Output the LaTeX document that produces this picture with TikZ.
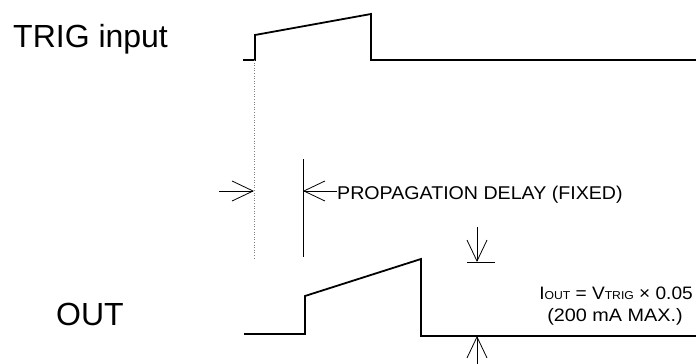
\documentclass[tikz,border=0pt]{standalone}
\usepackage{fontspec}
\setmainfont{Liberation Sans}
\usetikzlibrary{arrows.meta}
\newcommand\smallsub[1]{{\fontsize{11.5}{12}\selectfont #1}}
\begin{document}
\begin{tikzpicture}[x=1pt,y=-1pt,
  wave/.style={line width=1.8pt, line join=miter},
  thinline/.style={line width=0.8pt},
  barb/.style={-{Straight Barb[length=21pt,width=20pt,line width=0.8pt]}},
  biglabel/.style={inner sep=0pt, font=\fontsize{32}{36}\selectfont},
  smalllabel/.style={inner sep=0pt}]
\useasboundingbox (0,0) rectangle (696,364);
% labels
\node[biglabel, anchor=base west] (trig) at (13,47) {TRIG input};
\node[biglabel, anchor=base west] (out) at (56,325) {OUT};
\node[smalllabel, anchor=base west] (prop) at (337,199.5)
  {\scalebox{1.06}[1]{\fontsize{18.5}{20}\selectfont PROPAGATION DELAY (FIXED)}};
\node[smalllabel, anchor=base] (iout) at (616,299.5)
  {\scalebox{1.06}[1]{\fontsize{18}{20}\selectfont I\smallsub{OUT} = V\smallsub{TRIG} × 0.05}};
\node[smalllabel, anchor=base] (imax) at (615,321.5)
  {\scalebox{1.1}[1]{\fontsize{18}{20}\selectfont (200 mA MAX.)}};
% TRIG waveform
\coordinate (t0) at (243,60);
\coordinate (t1) at (255,60);
\coordinate (t2) at (255,35);
\coordinate (t3) at (371,14);
\coordinate (t4) at (371,60);
\coordinate (t5) at (697,60);
\draw[wave] (t0) -- (t1) -- (t2) -- (t3) -- (t4) -- (t5);
% OUT waveform
\coordinate (o0) at (244,334);
\coordinate (o1) at (305,334);
\coordinate (o2) at (305,296);
\coordinate (o3) at (421,259);
\coordinate (o4) at (421,336);
\coordinate (o5) at (697,336);
\draw[wave] (o0) -- (o1) -- (o2) -- (o3) -- (o4) -- (o5);
% markers
\coordinate (d0) at (254,60);
\coordinate (d1) at (254,260);
\draw[line width=0.6pt, gray, dotted] (d0) -- (d1);
\coordinate (s0) at (303,159);
\coordinate (s1) at (303,257);
\draw[thinline] (s0) -- (s1);
% propagation arrows
\coordinate (la) at (219,191);
\coordinate (lb) at (254,191);
\draw[thinline, barb] (la) -- (lb);
\coordinate (ra) at (337,191);
\coordinate (rb) at (303,191);
\draw[thinline, barb] (ra) -- (rb);
% amplitude arrows
\coordinate (da) at (477,227);
\coordinate (db) at (477,262);
\draw[thinline, barb] (da) -- (db);
\coordinate (bl) at (467,262);
\coordinate (br) at (495,262);
\draw[thinline] (bl) -- (br);
\coordinate (ua) at (477,365);
\coordinate (ub) at (477,336);
\draw[thinline, barb] (ua) -- (ub);
\end{tikzpicture}
\end{document}
